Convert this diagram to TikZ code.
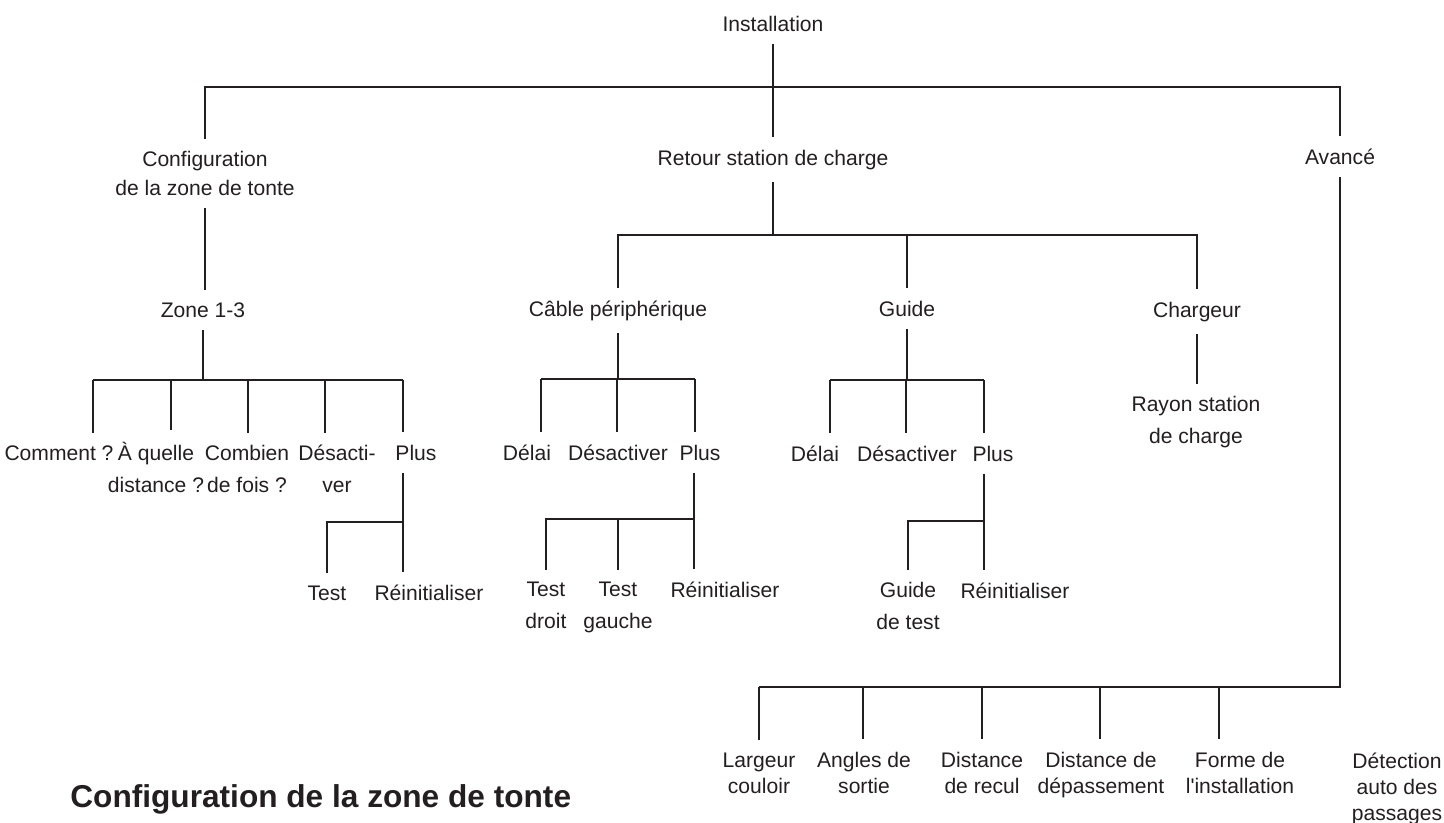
\documentclass[tikz,border=0pt]{standalone}
\usepackage{fontspec}
\setmainfont{Liberation Sans}
\definecolor{ink}{RGB}{35,31,32}
\tikzset{
  lbl/.style={inner xsep=0pt, inner ysep=7pt, align=center, text=ink,
    font=\fontsize{12}{17.7}\selectfont},
  lbltight/.style={lbl, font=\fontsize{12}{14.8}\selectfont},
  wire/.style={draw=ink, line width=1.2pt},
}

\begin{document}
\begin{tikzpicture}[x=0.02cm, y=-0.02cm]
  \useasboundingbox (0,0) rectangle (1444,822);

  % niveaux 0 et 1
  \node[lbl, anchor=base] (inst) at (773,31) {Installation};
  \node[lbl, anchor=base, font=\fontsize{12}{16}\selectfont] (cfg) at (205,195) {Configuration\\de la zone de tonte};
  \node[lbl, anchor=base] (retour) at (773,165) {Retour station de charge};
  \node[lbl, anchor=base] (avance) at (1340,164) {Avancé};

  % zone de tonte
  \node[lbl, anchor=base] (zone) at (203,317) {Zone 1-3};
  \node[lbl, anchor=base] (comment) at (59,460) {Comment ?};
  \node[lbl, anchor=base] (quelle) at (156,492) {À quelle\\distance ?};
  \node[lbl, anchor=base] (combien) at (247,492) {Combien\\de fois ?};
  \node[lbl, anchor=base] (desact) at (337,492) {Désacti-\\ver};
  \node[lbl, anchor=base] (zplus) at (416,460) {Plus};
  \node[lbl, anchor=base] (ztest) at (327,600) {Test};
  \node[lbl, anchor=base] (zreset) at (429,600) {Réinitialiser};

  % retour station
  \node[lbl, anchor=base] (cable) at (618,316) {Câble périphérique};
  \node[lbl, anchor=base] (guide) at (907,316) {Guide};
  \node[lbl, anchor=base] (charg) at (1197,317) {Chargeur};
  \node[lbl, anchor=base] (rayon) at (1196,443) {Rayon station\\de charge};
  \node[lbl, anchor=base] (cdelai) at (527,460) {Délai};
  \node[lbl, anchor=base] (cdesact) at (618,460) {Désactiver};
  \node[lbl, anchor=base] (cplus) at (700,460) {Plus};
  \node[lbl, anchor=base] (ctd) at (546,628) {Test\\droit};
  \node[lbl, anchor=base] (ctg) at (618,628) {Test\\gauche};
  \node[lbl, anchor=base] (creset) at (725,597) {Réinitialiser};
  \node[lbl, anchor=base] (gdelai) at (815,461) {Délai};
  \node[lbl, anchor=base] (gdesact) at (907,461) {Désactiver};
  \node[lbl, anchor=base] (gplus) at (993,461) {Plus};
  \node[lbl, anchor=base] (ggt) at (908,629) {Guide\\de test};
  \node[lbl, anchor=base] (greset) at (1015,598) {Réinitialiser};

  % avance
  \node[lbltight, anchor=base] (larg) at (759,793) {Largeur\\couloir};
  \node[lbltight, anchor=base] (angl) at (864,793) {Angles de\\sortie};
  \node[lbltight, anchor=base] (drec) at (982,793) {Distance\\de recul};
  \node[lbltight, anchor=base] (ddep) at (1101,793) {Distance de\\dépassement};
  \node[lbltight, anchor=base] (forme) at (1240,793) {Forme de\\l\textquotesingle installation};
  \node[lbltight, anchor=base] (detect) at (1397,820) {Détection\\auto des\\passages};

  \node[anchor=base west, inner sep=0pt, text=ink, font=\fontsize{18}{22}\selectfont\bfseries] (titre) at (70,807) {Configuration de la zone de tonte};

  % points des barres
  \coordinate (t0) at (773,87);
  \coordinate (rt) at (773,235);
  \coordinate (zt1) at (93,380);
  \coordinate (zt2) at (171,380);
  \coordinate (zt3) at (248,380);
  \coordinate (zt4) at (325,380);
  \coordinate (zt5) at (403,380);
  \coordinate (zp) at (403,522);
  \coordinate (ct1) at (541,379);
  \coordinate (ct2) at (617,379);
  \coordinate (ct3) at (695,379);
  \coordinate (cp) at (694,519);
  \coordinate (gt1) at (830,380);
  \coordinate (gt2) at (906,380);
  \coordinate (gt3) at (984,380);
  \coordinate (gp) at (984,521);
  \coordinate (at1) at (759,687);
  \coordinate (at2) at (863,687);
  \coordinate (at3) at (982,687);
  \coordinate (at4) at (1100,687);
  \coordinate (at5) at (1219,687);

  % liaisons
  \draw[wire] (inst.south) -- (retour.north);
  \draw[wire] (cfg.north) |- (t0) -| (avance.north);
  \draw[wire] (cfg.south) -- (cfg.south |- zone.north);
  \draw[wire] (zone.south) -- (zone.south |- zt1);
  \draw[wire] (zt1) -- (zt5);
  \foreach \t/\n in {zt1/comment, zt2/quelle, zt3/combien, zt4/desact, zt5/zplus}
    \draw[wire] (\t) -- (\t |- \n.north);
  \draw[wire] (zplus.south -| zp) -- (zp |- zreset.north);
  \draw[wire] (ztest.north) |- (zp);

  \draw[wire] (retour.south) -- (rt);
  \draw[wire] (cable.north) |- (rt) -| (charg.north);
  \draw[wire] (guide.north) -- (guide.north |- rt);
  \draw[wire] (charg.south) -- (charg.south |- rayon.north);

  \draw[wire] (cable.south) -- (cable.south |- ct1);
  \draw[wire] (ct1) -- (ct3);
  \foreach \t/\n in {ct1/cdelai, ct2/cdesact, ct3/cplus}
    \draw[wire] (\t) -- (\t |- \n.north);
  \draw[wire] (cplus.south -| cp) -- (cp |- creset.north);
  \draw[wire] (ctd.north) |- (cp);
  \draw[wire] (ctg.north) -- (ctg.north |- cp);

  \draw[wire] (guide.south) -- (guide.south |- gt1);
  \draw[wire] (gt1) -- (gt3);
  \foreach \t/\n in {gt1/gdelai, gt2/gdesact, gt3/gplus}
    \draw[wire] (\t) -- (\t |- \n.north);
  \draw[wire] (gplus.south -| gp) -- (gp |- greset.north);
  \draw[wire] (ggt.north) |- (gp);

  \draw[wire] (avance.south) |- (at1);
  \foreach \t/\n in {at1/larg, at2/angl, at3/drec, at4/ddep, at5/forme}
    \draw[wire] (\t) -- (\t |- \n.north);
\end{tikzpicture}
\end{document}
